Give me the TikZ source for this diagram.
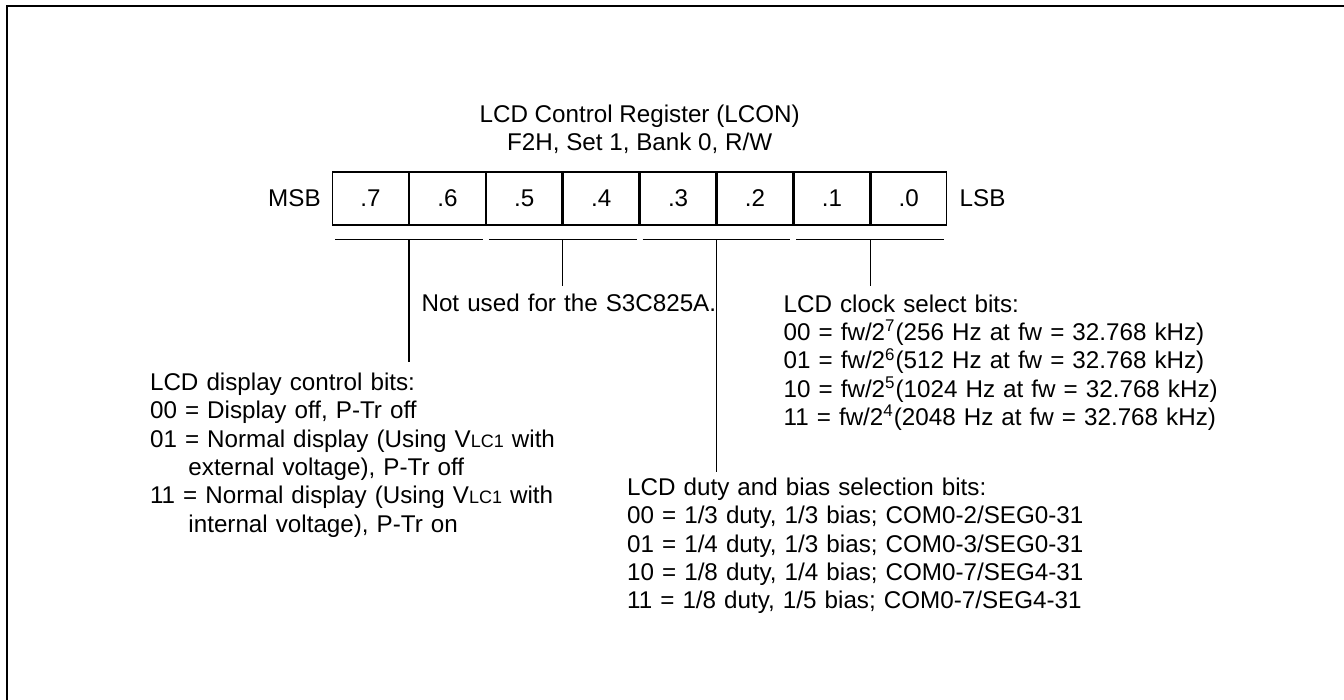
\documentclass[tikz,border=0pt]{standalone}
\usepackage{fontspec}
\setmainfont{Liberation Sans}
\usetikzlibrary{positioning}
\newcommand{\vlcone}{V{\fontsize{9}{10}\selectfont LC1}}
\tikzset{cell/.style={draw,line width=0.65pt,minimum width=37.8pt,minimum height=26.5pt,
  inner sep=0pt,font=\fontsize{12.1}{14.15}\selectfont},
  tag/.style={inner sep=0pt,font=\fontsize{12.1}{14.15}\selectfont},
  note/.style={inner sep=0pt,align=left,text width=230pt,anchor=base west,
  font=\fontsize{12.1}{14.15}\selectfont},
  rule/.style={line width=0.6pt},
  frame/.style={line width=1pt}}

\begin{document}
\begin{tikzpicture}[x=0.5pt,y=-0.5pt,node distance=5.5pt]
\useasboundingbox (0,0) rectangle (1344,700);
\draw[frame] (6.7,700) -- (6.7,5.7) -- (1344,5.7);
\node[cell] (b7) at (370.5,198.4) {.7};
\node[cell,right=0pt of b7] (b6) {.6};
\node[cell,right=0pt of b6] (b5) {.5};
\node[cell,right=0pt of b5] (b4) {.4};
\node[cell,right=0pt of b4] (b3) {.3};
\node[cell,right=0pt of b3] (b2) {.2};
\node[cell,right=0pt of b2] (b1) {.1};
\node[cell,right=0pt of b1] (b0) {.0};
\node[tag,left=of b7] (msb) {MSB};
\node[tag,right=6pt of b0] (lsb) {LSB};
\node[tag,anchor=base] (addr) at ([yshift=10.5pt]b4.north east) {F2H, Set 1, Bank 0, R/W};
\node[tag,anchor=base] (title) at ([yshift=13.7pt]addr.base) {LCD Control Register (LCON)};
% bit groups
\draw[rule] ([shift={(1.5pt,-7pt)}]b7.south west) -- ([shift={(-1.5pt,-7pt)}]b6.south east);
\draw[rule] ([shift={(1.5pt,-7pt)}]b5.south west) -- ([shift={(-1.5pt,-7pt)}]b4.south east);
\draw[rule] ([shift={(1.5pt,-7pt)}]b3.south west) -- ([shift={(-1.5pt,-7pt)}]b2.south east);
\draw[rule] ([shift={(1.5pt,-7pt)}]b1.south west) -- ([shift={(-1.5pt,-7pt)}]b0.south east);
\coordinate (disp) at ([yshift=-68pt]b7.south east);
\coordinate (unused) at ([yshift=-30pt]b5.south east);
\coordinate (duty) at ([yshift=-123.4pt]b3.south east);
\coordinate (clock) at ([yshift=-30pt]b1.south east);
\draw[rule] ([yshift=-7pt]b7.south east) -- (disp);
\draw[rule] ([yshift=-7pt]b5.south east) -- (unused);
\draw[rule] ([yshift=-7pt]b3.south east) -- (duty);
\draw[rule] ([yshift=-7pt]b1.south east) -- (clock);
% descriptions
\node[note] (dispnote) at ([shift={(-129.65pt,-14.5pt)}]disp) {LCD display control bits:\\
  00 = Display off, P-Tr off\\
  01 = Normal display (Using \vlcone{} with\\
  \hspace*{19.2pt}external voltage), P-Tr off\\
  11 = Normal display (Using \vlcone{} with\\
  \hspace*{19.2pt}internal voltage), P-Tr on};
\node[note] (unusednote) at ([shift={(-70.8pt,-13pt)}]unused) {Not used for the S3C825A.};
\node[note] (clocknote) at ([shift={(-43.55pt,-13.3pt)}]clock) {LCD clock select bits:\\
  00 = fw/2\textsuperscript{7}(256 Hz at fw = 32.768 kHz)\\
  01 = fw/2\textsuperscript{6}(512 Hz at fw = 32.768 kHz)\\
  10 = fw/2\textsuperscript{5}(1024 Hz at fw = 32.768 kHz)\\
  11 = fw/2\textsuperscript{4}(2048 Hz at fw = 32.768 kHz)};
\node[note] (dutynote) at ([shift={(-44.9pt,-11.65pt)}]duty) {LCD duty and bias selection bits:\\
  00 = 1/3 duty, 1/3 bias; COM0-2/SEG0-31\\
  01 = 1/4 duty, 1/3 bias; COM0-3/SEG0-31\\
  10 = 1/8 duty, 1/4 bias; COM0-7/SEG4-31\\
  11 = 1/8 duty, 1/5 bias; COM0-7/SEG4-31};
\end{tikzpicture}
\end{document}
